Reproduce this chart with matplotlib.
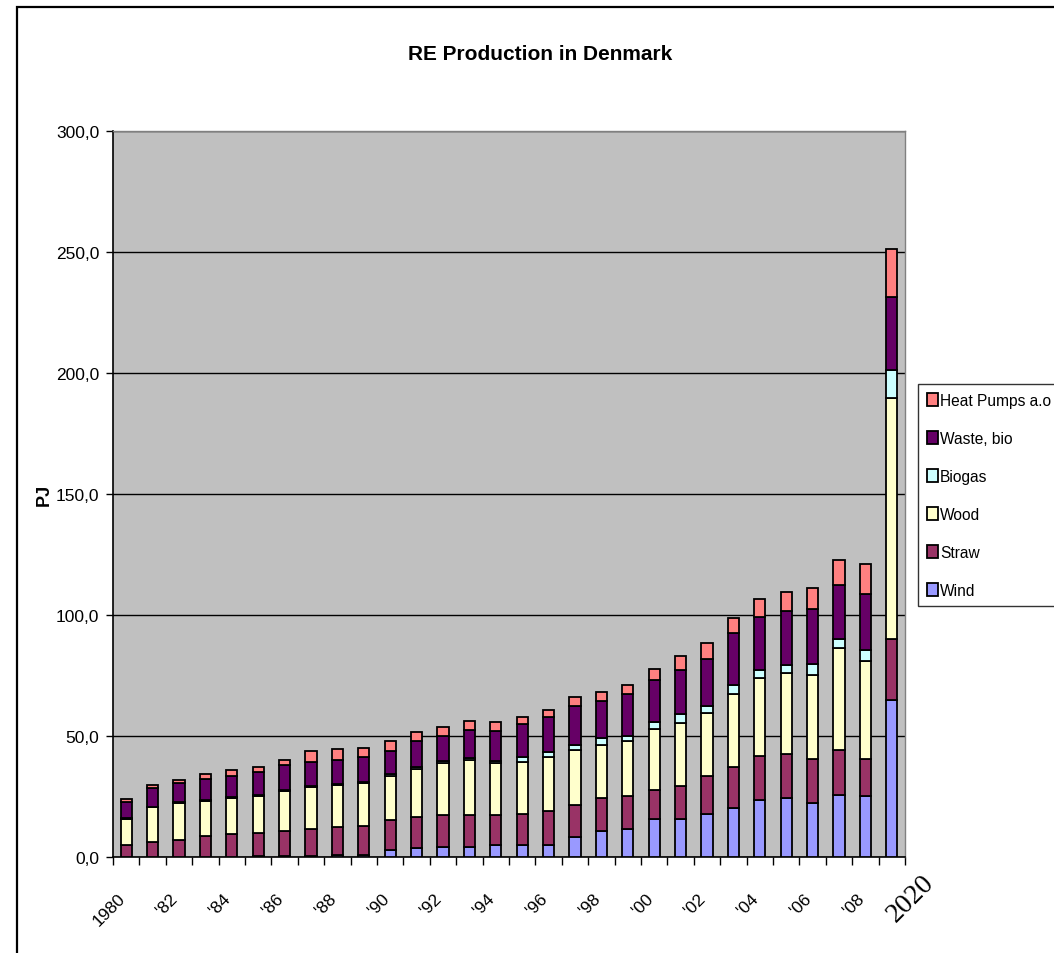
import matplotlib
matplotlib.use('Agg')
import matplotlib.pyplot as plt
import matplotlib.transforms as mtransforms
from matplotlib.patches import Rectangle
from matplotlib.ticker import FuncFormatter, FixedLocator
import numpy as np

plt.rcParams['font.family'] = ['Liberation Sans Narrow', 'Liberation Sans', 'DejaVu Sans']

# data (PJ)
years = ['1980', '1981', '1982', '1983', '1984', '1985', '1986', '1987', '1988', '1989',
         '1990', '1991', '1992', '1993', '1994', '1995', '1996', '1997', '1998', '1999',
         '2000', '2001', '2002', '2003', '2004', '2005', '2006', '2007', '2008', '2020']
tick_text = ['1980', '', "'82", '', "'84", '', "'86", '', "'88", '', "'90", '', "'92", '', "'94", '',
             "'96", '', "'98", '', "'00", '', "'02", '', "'04", '', "'06", '', "'08", '2020']

wind = [0.1, 0.1, 0.1, 0.2, 0.2, 0.3, 0.5, 0.6, 0.8, 1.0,
        2.7, 3.6, 4.2, 4.2, 4.9, 4.9, 4.9, 8.2, 10.8, 11.5,
        15.8, 15.8, 17.8, 20.1, 23.6, 24.4, 22.2, 25.8, 25.2, 65.0]
straw = [4.9, 6.3, 7.0, 8.4, 9.1, 9.7, 10.2, 10.8, 11.8, 11.9,
         12.6, 12.9, 13.3, 13.3, 12.6, 13.0, 14.0, 13.4, 13.7, 13.9,
         12.0, 13.7, 15.5, 16.9, 18.2, 18.3, 18.2, 18.3, 15.5, 25.0]
wood = [10.9, 14.2, 15.3, 14.7, 15.2, 15.3, 16.7, 17.7, 17.2, 17.7,
        18.3, 19.8, 21.2, 22.4, 21.2, 21.2, 22.4, 22.5, 21.8, 22.4,
        24.9, 26.0, 26.0, 30.4, 32.2, 33.5, 34.9, 42.2, 40.4, 99.7]
biogas = [0.2, 0.2, 0.2, 0.2, 0.3, 0.3, 0.3, 0.4, 0.4, 0.5,
          0.6, 0.7, 0.8, 0.9, 1.0, 2.2, 1.9, 2.2, 3.0, 2.1,
          3.1, 3.4, 3.0, 3.6, 3.4, 3.3, 4.4, 3.7, 4.4, 11.7]
waste = [6.8, 7.6, 8.1, 8.7, 8.7, 9.5, 10.3, 9.7, 9.9, 10.2,
         9.8, 10.9, 10.5, 11.6, 12.2, 13.6, 14.7, 15.9, 15.3, 17.4,
         17.5, 18.5, 19.6, 21.7, 21.8, 22.1, 22.6, 22.3, 23.0, 30.0]
heat = [1.1, 1.4, 1.3, 2.1, 2.3, 2.1, 2.0, 4.5, 4.5, 3.7,
        3.8, 3.8, 3.7, 3.7, 3.7, 3.0, 3.0, 3.8, 3.6, 3.7,
        4.4, 5.5, 6.7, 5.9, 7.5, 8.0, 8.7, 10.3, 12.7, 20.0]

series = [('Wind', wind, '#9999FF'), ('Straw', straw, '#993366'), ('Wood', wood, '#FFFFCC'),
          ('Biogas', biogas, '#CCFFFF'), ('Waste, bio', waste, '#660066'),
          ('Heat Pumps a.o', heat, '#FF8080')]

fig = plt.figure(figsize=(10.54, 9.54), dpi=100)
ax = fig.add_axes([113/1054, 1-858/954, 792/1054, 726/954])
ax.set_facecolor('#C0C0C0')

x = np.arange(len(years))
bottom = np.zeros(len(years))
handles = []
for name, vals, col in series:
    b = ax.bar(x, vals, width=0.42, bottom=bottom, color=col, edgecolor='black',
               linewidth=1.3, label=name, zorder=3)
    handles.append(b)
    bottom += np.array(vals)

ax.set_xlim(-0.5, len(years) - 0.5)
ax.set_ylim(0, 300)
ax.set_yticks(np.arange(0, 301, 50))
ax.yaxis.set_major_formatter(FuncFormatter(lambda v, p: f'{v:.1f}'.replace('.', ',')))
ax.yaxis.grid(True, color='black', linewidth=1.0, zorder=0)
ax.set_axisbelow(True)
ax.tick_params(axis='y', direction='out', length=5, width=1, labelsize=12.5, pad=5)

ax.set_xticks(x)
ax.set_xticklabels(tick_text, rotation=45, ha='right', rotation_mode='anchor', fontsize=12.5)
ax.tick_params(axis='x', which='major', length=0, pad=24)
ax.xaxis.set_minor_locator(FixedLocator(np.arange(-0.5, len(years), 1.0)))
ax.tick_params(axis='x', which='minor', direction='out', length=6, width=1)

shift = mtransforms.ScaledTranslation(-0.09, 0.0, fig.dpi_scale_trans)
for lab in ax.get_xticklabels()[:-1]:
    lab.set_transform(lab.get_transform() + shift)

# the 2020 label is set in a larger serif face
lab = ax.get_xticklabels()[-1]
lab.set_fontfamily(['Liberation Serif', 'DejaVu Serif'])
lab.set_fontsize(20)
lab.set_ha('center')
lab.set_transform(lab.get_transform() + mtransforms.ScaledTranslation(0.10, 0.01, fig.dpi_scale_trans))

for s in ['left', 'bottom']:
    ax.spines[s].set_color('black')
    ax.spines[s].set_linewidth(1.2)
for s in ['top', 'right']:
    ax.spines[s].set_color('#808080')
    ax.spines[s].set_linewidth(1.0)

ax.set_ylabel('PJ', fontsize=13, fontweight='bold', labelpad=2)
fig.text(540/1054, 1-54/954, 'RE Production in Denmark', fontsize=15, fontweight='bold',
         ha='center', va='center')

leg = ax.legend(handles[::-1], [h.get_label() for h in handles[::-1]],
                loc='upper left', bbox_to_anchor=(918/1054, 1-385/954),
                bbox_transform=fig.transFigure, fontsize=11.2, frameon=True, fancybox=False,
                edgecolor='black', handlelength=0.75, handleheight=0.9, handletextpad=0.1,
                labelspacing=1.48, borderpad=0.55, borderaxespad=0)
leg.get_frame().set_linewidth(1.0)

# outer chart frame
fig.patches.append(Rectangle((16.5/1054, -0.1), 1.2, 1.1 - 7.5/954, transform=fig.transFigure,
                             fill=False, edgecolor='black', linewidth=1.6))

fig.savefig('out.png', dpi=100)
